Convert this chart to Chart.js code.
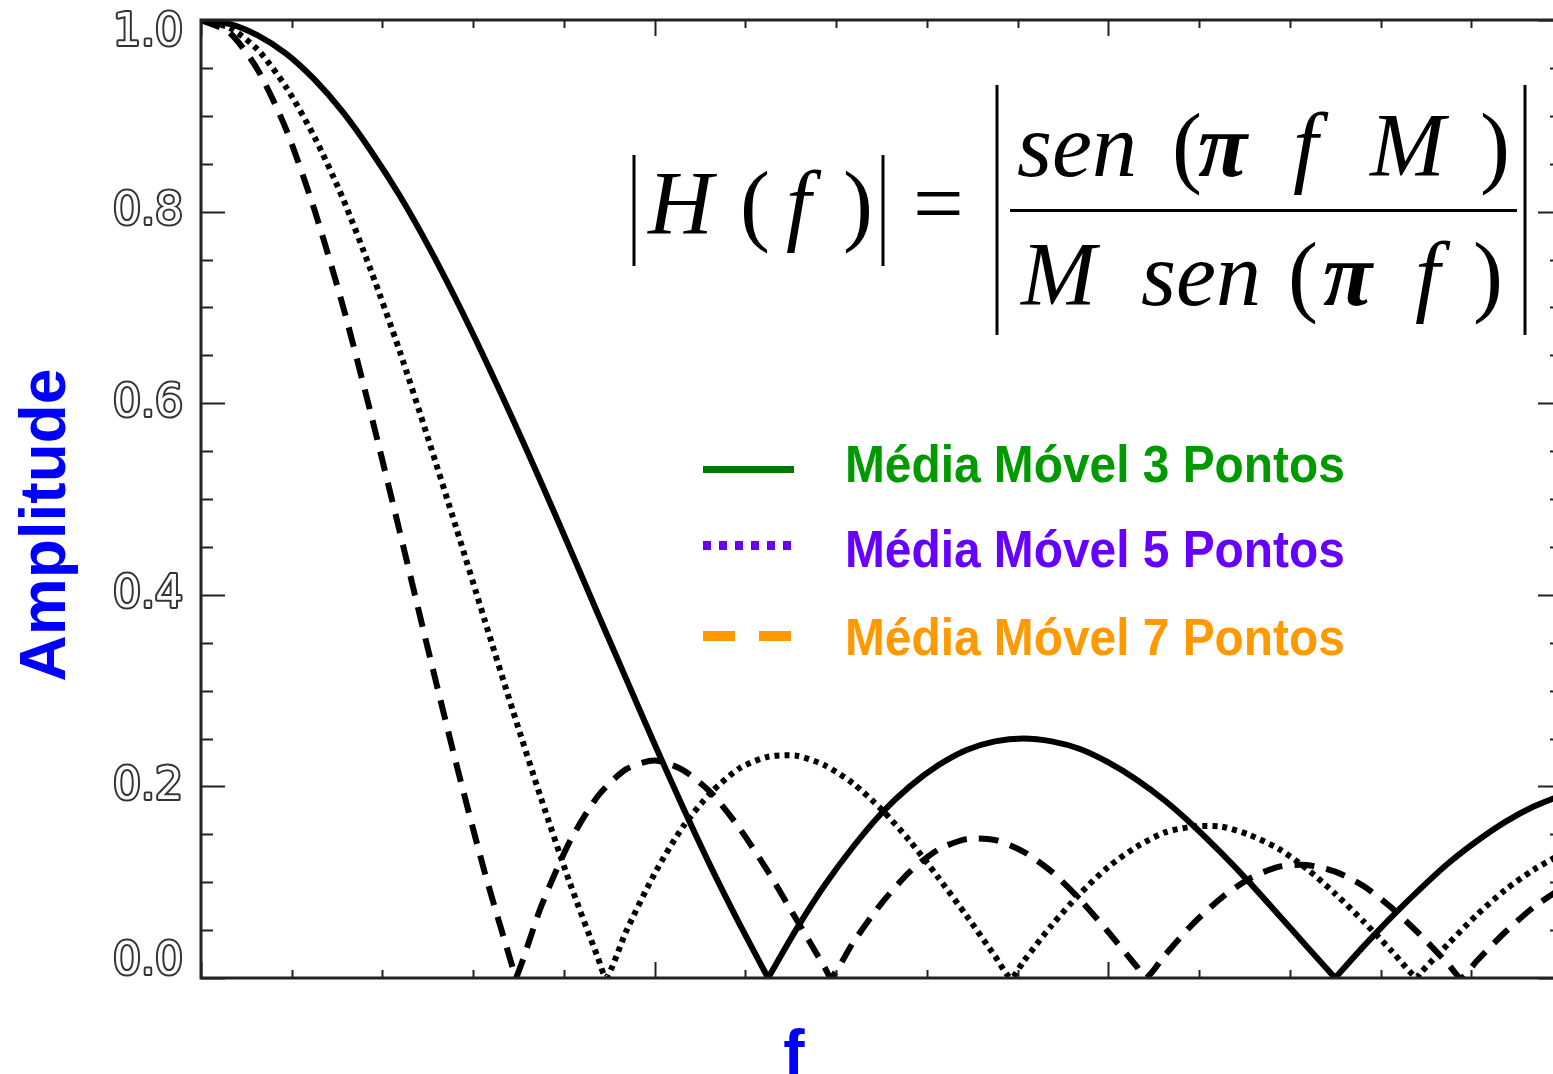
<!DOCTYPE html>
<html>
<head>
<meta charset="utf-8">
<script src="https://cdn.jsdelivr.net/npm/chart.js@4.4.1/dist/chart.umd.min.js"></script>
<style>
  html, body { margin: 0; padding: 0; background: #fff; overflow: hidden; }
  #wrap { position: absolute; left: 0; top: 0; }
</style>
</head>
<body>
<div id="wrap"><canvas id="myChart" width="1565" height="1074"></canvas></div>
<script>
// Dados
const freq = [0, 0.01, 0.02, 0.03, 0.04, 0.05, 0.06, 0.07, 0.08, 0.09,
  0.10, 0.11, 0.12, 0.13, 0.14, 0.15, 0.16, 0.17, 0.18, 0.19,
  0.20, 0.21, 0.22, 0.23, 0.24, 0.25, 0.26, 0.27, 0.28, 0.29,
  0.30, 0.31, 0.32, 0.33, 0.34, 0.35, 0.36, 0.37, 0.38, 0.39,
  0.40, 0.41, 0.42, 0.43, 0.44, 0.45, 0.46, 0.47, 0.48];

const media3 = [1.000, 0.996, 0.984, 0.965, 0.938, 0.904, 0.863, 0.817, 0.765, 0.708,
  0.647, 0.583, 0.517, 0.449, 0.380, 0.312, 0.244, 0.178, 0.115, 0.056,
  0.000, 0.051, 0.097, 0.137, 0.172, 0.200, 0.222, 0.238, 0.247, 0.250,
  0.247, 0.239, 0.225, 0.207, 0.185, 0.159, 0.130, 0.099, 0.066, 0.033,
  0.000, 0.033, 0.064, 0.093, 0.120, 0.143, 0.163, 0.179, 0.191];

const media5 = [1.000, 0.992, 0.969, 0.930, 0.878, 0.814, 0.738, 0.655, 0.564, 0.470,
  0.374, 0.279, 0.187, 0.100, 0.021, 0.049, 0.109, 0.158, 0.194, 0.219,
  0.231, 0.232, 0.222, 0.203, 0.176, 0.143, 0.105, 0.065, 0.023, 0.017,
  0.055, 0.088, 0.116, 0.137, 0.152, 0.158, 0.158, 0.149, 0.135, 0.114,
  0.088, 0.059, 0.028, 0.005, 0.036, 0.066, 0.092, 0.113, 0.130];

const media7 = [1.000, 0.987, 0.948, 0.886, 0.802, 0.702, 0.588, 0.467, 0.344, 0.224,
  0.111, 0.010, 0.075, 0.142, 0.190, 0.218, 0.227, 0.217, 0.193, 0.156,
  0.111, 0.061, 0.011, 0.037, 0.078, 0.111, 0.134, 0.145, 0.144, 0.132,
  0.111, 0.082, 0.048, 0.012, 0.024, 0.057, 0.084, 0.104, 0.116, 0.118,
  0.111, 0.096, 0.073, 0.045, 0.014, 0.018, 0.048, 0.074, 0.094];

// zeros (pontos onde a curva toca 0)
const zeros3 = [0.2, 0.4];
const zeros5 = [0.1429, 0.2857, 0.4286];
const zeros7 = [0.1111, 0.2222, 0.3333, 0.4444];

const yTicks = [0, 0.2, 0.4, 0.6, 0.8, 1.0];
const yTickLabels = ['0.0', '0.2', '0.4', '0.6', '0.8', '1.0'];
const xStep = 0.032;
const yStep = 0.05;

const legendLabels = ['Média Móvel 3 Pontos', 'Média Móvel 5 Pontos', 'Média Móvel 7 Pontos'];
const legendColors = ['#009900', '#6600ff', '#ff9900'];

function toPoints(vals, zeros) {
  const pts = freq.map((f, i) => ({ x: f, y: vals[i] }));
  zeros.forEach(z => pts.push({ x: z, y: 0 }));
  return pts.sort((a, b) => a.x - b.x);
}

// Desenho da moldura, marcas, fórmula e legenda
const extras = {
  id: 'extras',
  afterDraw(chart) {
    const c = chart.ctx;
    const xs = chart.scales.x, ys = chart.scales.y;
    const a = chart.chartArea;
    c.save();

    // ticks
    c.strokeStyle = '#222';
    c.lineWidth = 2;
    c.beginPath();
    for (let i = 0; i * xStep <= 0.48 + 1e-9; i++) {
      const px = Math.round(xs.getPixelForValue(i * xStep)) + 0.5;
      const len = (i % 5 === 0) ? 16 : 8;
      c.moveTo(px, a.bottom); c.lineTo(px, a.bottom - len);
      c.moveTo(px, a.top); c.lineTo(px, a.top + len);
    }
    for (let i = 0; i * yStep <= 1 + 1e-9; i++) {
      const py = Math.round(ys.getPixelForValue(i * yStep)) + 0.5;
      const len = (i % 4 === 0) ? 24 : 12;
      c.moveTo(a.left, py); c.lineTo(a.left + len, py);
      c.moveTo(a.right, py); c.lineTo(a.right - len, py);
    }
    c.stroke();

    // frame
    c.lineWidth = 3;
    c.strokeRect(a.left, a.top, a.right - a.left, a.bottom - a.top);

    // y tick labels (hollow look)
    c.font = '44px "DejaVu Sans", sans-serif';
    c.textAlign = 'right';
    c.textBaseline = 'middle';
    c.lineJoin = 'round';
    c.lineWidth = 4;
    c.strokeStyle = '#333';
    c.fillStyle = '#fff';
    yTicks.forEach((v, i) => {
      let py = ys.getPixelForValue(v) + 1;
      if (i === 0) py -= 16;
      if (i === yTicks.length - 1) py += 13;
      c.strokeText(yTickLabels[i], 183, py);
      c.fillText(yTickLabels[i], 183, py);
    });

    // axis titles
    c.fillStyle = '#0000ff';
    c.font = 'bold 64px "Liberation Sans", Arial, sans-serif';
    c.textAlign = 'center';
    c.textBaseline = 'alphabetic';
    c.fillText('f', 794, 1075);
    c.save();
    c.translate(65, 525);
    c.rotate(-Math.PI / 2);
    c.fillText('Amplitude', 0, 0);
    c.restore();

    // formula
    c.fillStyle = '#000';
    c.textAlign = 'left';
    const it = 'italic 90px "Liberation Serif", "Times New Roman", serif';
    const bi = 'bold italic 90px "Liberation Serif", "Times New Roman", serif';
    const up = '90px "Liberation Serif", "Times New Roman", serif';
    const tok = (t, x, y, f) => { c.font = f; c.fillText(t, x, y); };
    tok('H', 648, 234, it);
    tok('(', 740, 234, up);
    tok('f', 786, 234, it);
    tok(')', 843, 234, up);
    tok('=', 913, 234, up);
    tok('sen', 1017, 176, it);
    tok('(', 1172, 176, up);
    tok('π', 1198, 176, bi);
    tok('f', 1293, 176, it);
    tok('M', 1370, 176, it);
    tok(')', 1480, 176, up);
    tok('M', 1021, 305, it);
    tok('sen', 1141, 305, it);
    tok('(', 1288, 305, up);
    tok('π', 1323, 305, bi);
    tok('f', 1415, 305, it);
    tok(')', 1473, 305, up);
    c.lineWidth = 3;
    c.strokeStyle = '#000';
    c.beginPath();
    c.moveTo(634, 155); c.lineTo(634, 266);
    c.moveTo(883, 155); c.lineTo(883, 266);
    c.moveTo(997, 85); c.lineTo(997, 335);
    c.moveTo(1525, 85); c.lineTo(1525, 335);
    c.moveTo(1010, 210.5); c.lineTo(1517, 210.5);
    c.stroke();

    // legend
    const rows = [469.5, 545.5, 636];
    const bases = [482, 567, 655];
    c.lineCap = 'butt';
    c.strokeStyle = '#007700';
    c.lineWidth = 7;
    c.setLineDash([]);
    c.beginPath(); c.moveTo(703, rows[0]); c.lineTo(794, rows[0]); c.stroke();
    c.strokeStyle = legendColors[1];
    c.lineWidth = 9;
    c.setLineDash([8, 8]);
    c.beginPath(); c.moveTo(703, rows[1]); c.lineTo(792, rows[1]); c.stroke();
    c.strokeStyle = legendColors[2];
    c.lineWidth = 10;
    c.setLineDash([32, 24]);
    c.beginPath(); c.moveTo(703, rows[2]); c.lineTo(792, rows[2]); c.stroke();
    c.setLineDash([]);

    c.font = 'bold 52px "Liberation Sans", Arial, sans-serif';
    legendLabels.forEach((t, i) => {
      c.save();
      c.translate(845, bases[i]);
      c.scale(0.92, 1);
      c.fillStyle = legendColors[i];
      c.fillText(t, 0, 0);
      c.restore();
    });

    c.restore();
  }
};

const ctx = document.getElementById('myChart').getContext('2d');
const myChart = new Chart(ctx, {
  type: 'line',
  data: {
    datasets: [
      { label: legendLabels[0], data: toPoints(media3, zeros3), borderColor: '#000', borderWidth: 6 },
      { label: legendLabels[1], data: toPoints(media5, zeros5), borderColor: '#000', borderWidth: 6, borderDash: [5, 5] },
      { label: legendLabels[2], data: toPoints(media7, zeros7), borderColor: '#000', borderWidth: 6, borderDash: [20, 12] }
    ]
  },
  options: {
    responsive: false,
    animation: false,
    devicePixelRatio: 1,
    parsing: false,
    elements: { point: { radius: 0 }, line: { tension: 0.25, borderCapStyle: 'butt' } },
    layout: { padding: { left: 0, top: 20, right: 3, bottom: 96 } },
    plugins: { legend: { display: false }, tooltip: { enabled: false } },
    scales: {
      x: { type: 'linear', min: 0, max: 0.48, display: false },
      y: {
        type: 'linear', min: 0, max: 1,
        afterFit(scale) { scale.width = 201; },
        afterBuildTicks(scale) { scale.ticks = yTicks.map(v => ({ value: v })); },
        grid: { display: false, drawTicks: false },
        border: { display: false },
        ticks: { display: false }
      }
    }
  },
  plugins: [extras]
});
</script>
</body>
</html>
